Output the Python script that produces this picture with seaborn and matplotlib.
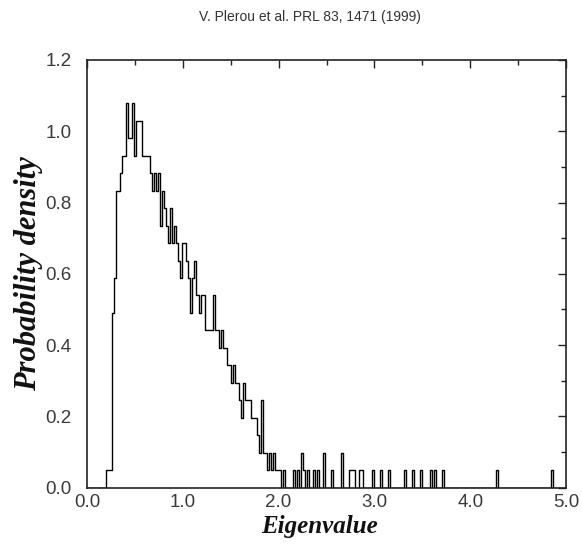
import numpy as np
import pandas as pd
import matplotlib
matplotlib.use("Agg")
import matplotlib.pyplot as plt
import seaborn as sns
from matplotlib.ticker import MultipleLocator, FormatStrFormatter

# ---------------- data ----------------
title_text = "V. Plerou et al. PRL 83, 1471 (1999)"
x_label = "Eigenvalue"
y_label = "Probability density"

bin_width = 0.021
grid_start = 0.009          # first histogram edge
grid_end = 4.902            # last histogram edge
body_start = 0.198          # left edge of the first non-empty bin

# density of consecutive bins of the main body (starting at body_start)
body_density = [
    0.049, 0.049, 0.049, 0.490, 0.588, 0.833, 0.833, 0.882, 0.931, 0.931,
    1.078, 0.980, 0.980, 1.078, 0.931, 1.029, 1.029, 1.029, 0.931, 0.931,
    0.931, 0.931, 0.882, 0.833, 0.882, 0.833, 0.882, 0.735, 0.833, 0.784,
    0.735, 0.686, 0.784, 0.686, 0.735, 0.686, 0.637, 0.588, 0.686, 0.686,
    0.637, 0.588, 0.490, 0.588, 0.637, 0.539, 0.490, 0.539, 0.539, 0.441,
    0.441, 0.441, 0.441, 0.539, 0.441, 0.441, 0.392, 0.441, 0.392, 0.392,
    0.343, 0.343, 0.294, 0.343, 0.294, 0.294, 0.245, 0.196, 0.294, 0.245,
    0.245, 0.245, 0.196, 0.196, 0.196, 0.147, 0.098, 0.245, 0.098, 0.098,
    0.049, 0.098, 0.049, 0.098, 0.049, 0.049, 0.049,
]

# isolated eigenvalues in the tail and their bar heights
tail_eigenvalues = [
    2.065, 2.160, 2.195, 2.240, 2.275, 2.310, 2.365, 2.415, 2.470, 2.550,
    2.670, 2.740, 2.770, 2.800, 2.845, 2.885, 2.985, 3.065, 3.140, 3.325,
    3.395, 3.480, 3.595, 3.640, 3.705, 4.275, 4.850,
]
tail_density = [
    0.049, 0.049, 0.049, 0.098, 0.049, 0.049, 0.049, 0.049, 0.098, 0.049,
    0.098, 0.049, 0.049, 0.049, 0.049, 0.049, 0.049, 0.049, 0.049, 0.049,
    0.049, 0.049, 0.049, 0.049, 0.049, 0.049, 0.049,
]

x_major = [0.0, 1.0, 2.0, 3.0, 4.0, 5.0]
y_major = [0.0, 0.2, 0.4, 0.6, 0.8, 1.0, 1.2]

# ---------------- build table ----------------
body_centers = body_start + (np.arange(len(body_density)) + 0.5) * bin_width
df = pd.DataFrame({
    "eigenvalue": np.concatenate([body_centers, tail_eigenvalues]),
    "density": np.concatenate([body_density, tail_density]),
})

# ---------------- figure ----------------
sns.set_style("white")
plt.rcParams["font.family"] = ["Liberation Sans", "DejaVu Sans"]

W, H = 582, 546
fig = plt.figure(figsize=(W / 100, H / 100), dpi=100)
ax = fig.add_axes([87 / W, 1 - 487.5 / H, (566 - 87) / W, (487.5 - 60) / H])

sns.histplot(data=df, x="eigenvalue", weights="density",
             binwidth=bin_width, binrange=(grid_start, grid_end),
             element="step", fill=False, color="black", linewidth=1.0,
             stat="count", ax=ax)

ax.set_xlim(0, 5)
ax.set_ylim(0, 1.2)
ax.set_xticks(x_major)
ax.set_yticks(y_major)
ax.xaxis.set_minor_locator(MultipleLocator(0.5))
ax.yaxis.set_minor_locator(MultipleLocator(0.1))
ax.xaxis.set_major_formatter(FormatStrFormatter("%.1f"))
ax.yaxis.set_major_formatter(FormatStrFormatter("%.1f"))

ax.tick_params(which="both", direction="in", top=True, right=True,
               color="#222222", width=1.0)
ax.tick_params(which="major", length=5.8, labelsize=13.5, colors="#222222",
               labelcolor="#3a3a3a")
ax.tick_params(which="minor", length=3.3)
ax.tick_params(axis="y", which="major", pad=11)
ax.tick_params(axis="x", which="major", pad=5)
for s in ax.spines.values():
    s.set_visible(True)
    s.set_color("#222222")
    s.set_linewidth(1.2)

label_font = dict(family=["Liberation Serif", "DejaVu Serif"],
                  weight="bold", style="italic", color="#111111")
ax.set_xlabel(x_label, fontsize=18, labelpad=1, **label_font)
ax.set_ylabel(y_label, fontsize=22, labelpad=2, **label_font)
ax.xaxis.set_label_coords(0.486, -0.064, transform=ax.transAxes)
ax.xaxis.label.set_va("top")

fig.text(310 / W, 1 - 17 / H, title_text, ha="center", va="center",
         fontsize=10, color="#333333")

fig.savefig("out.png", dpi=100)
